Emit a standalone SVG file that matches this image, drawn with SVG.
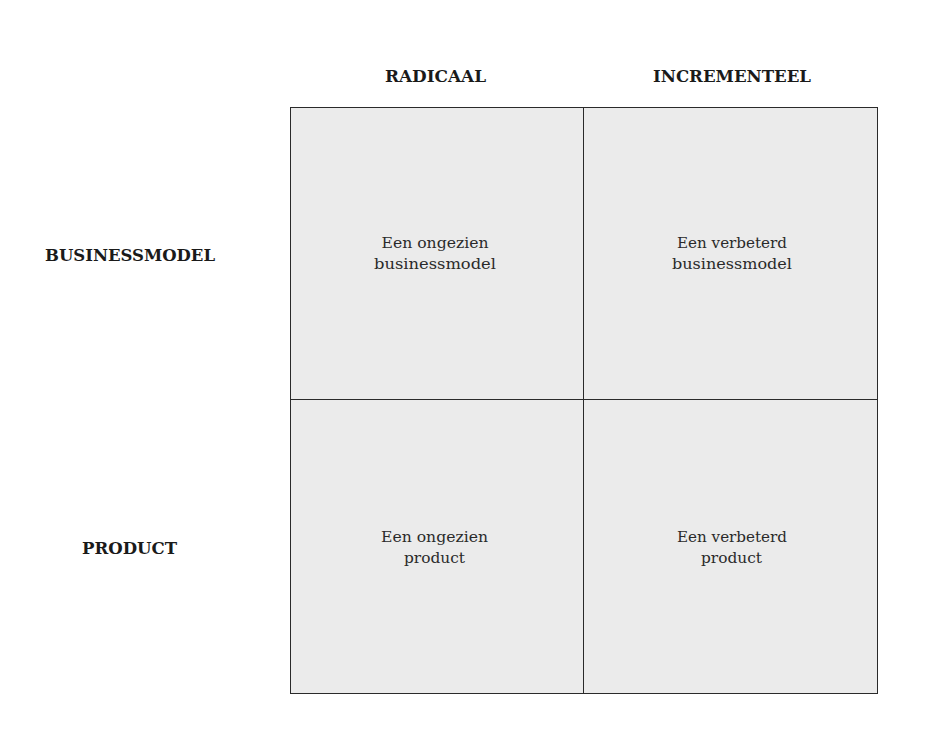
<svg xmlns="http://www.w3.org/2000/svg" width="940" height="744" viewBox="0 0 940 744">
  <style>
    .cell { fill: #ebebeb; stroke: #2a2a2a; stroke-width: 1; }
    .head { font-family: "DejaVu Serif", "Liberation Serif", serif; font-weight: bold; font-size: 16px; fill: #1a1a1a; text-anchor: middle; }
    .body { font-family: "DejaVu Serif", "Liberation Serif", serif; font-size: 14px; fill: #2a2a2a; text-anchor: middle; }
  </style>
  <rect width="940" height="744" fill="#ffffff"/>

  <!-- column headings -->
  <g id="col-radicaal">
    <text class="head" x="435.5" y="82" textLength="101" lengthAdjust="spacingAndGlyphs">RADICAAL</text>
  </g>
  <g id="col-incrementeel">
    <text class="head" x="732" y="82" textLength="158" lengthAdjust="spacingAndGlyphs">INCREMENTEEL</text>
  </g>

  <!-- row headings -->
  <g id="row-businessmodel">
    <text class="head" x="130" y="261" textLength="170" lengthAdjust="spacingAndGlyphs">BUSINESSMODEL</text>
  </g>
  <g id="row-product">
    <text class="head" x="129.5" y="554" textLength="95" lengthAdjust="spacingAndGlyphs">PRODUCT</text>
  </g>

  <!-- quadrants -->
  <g id="cell-radical-business">
    <rect class="cell" x="290.5" y="107.5" width="293" height="292"/>
    <text class="body" x="435" y="248" textLength="107" lengthAdjust="spacingAndGlyphs">Een ongezien</text>
    <text class="body" x="435" y="269" textLength="122" lengthAdjust="spacingAndGlyphs">businessmodel</text>
  </g>
  <g id="cell-incremental-business">
    <rect class="cell" x="583.5" y="107.5" width="294" height="292"/>
    <text class="body" x="732" y="248" textLength="110" lengthAdjust="spacingAndGlyphs">Een verbeterd</text>
    <text class="body" x="732" y="269" textLength="120" lengthAdjust="spacingAndGlyphs">businessmodel</text>
  </g>
  <g id="cell-radical-product">
    <rect class="cell" x="290.5" y="399.5" width="293" height="294"/>
    <text class="body" x="434.5" y="542" textLength="107" lengthAdjust="spacingAndGlyphs">Een ongezien</text>
    <text class="body" x="434.5" y="563" textLength="61" lengthAdjust="spacingAndGlyphs">product</text>
  </g>
  <g id="cell-incremental-product">
    <rect class="cell" x="583.5" y="399.5" width="294" height="294"/>
    <text class="body" x="732" y="542" textLength="110" lengthAdjust="spacingAndGlyphs">Een verbeterd</text>
    <text class="body" x="731.5" y="563" textLength="61" lengthAdjust="spacingAndGlyphs">product</text>
  </g>

  <g id="connectors"></g>
</svg>
